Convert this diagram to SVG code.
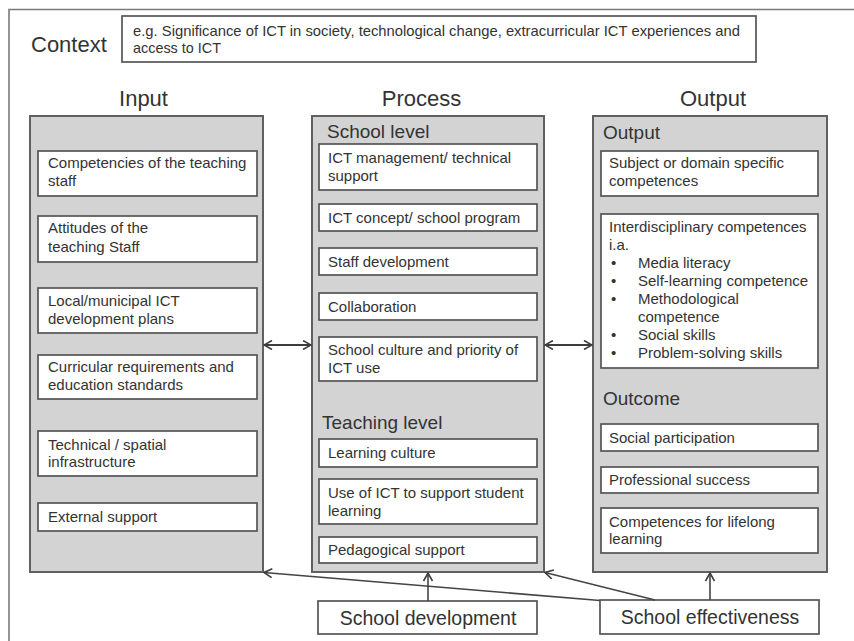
<svg xmlns="http://www.w3.org/2000/svg" width="854" height="641" viewBox="0 0 854 641">
<defs>
<marker id="arr" viewBox="0 0 10 10" refX="9" refY="5" markerWidth="10" markerHeight="10" markerUnits="userSpaceOnUse" orient="auto-start-reverse">
<path d="M1,0.5 L9,5 L1,9.5" fill="none" stroke="#3d3d3d" stroke-width="1.6"/>
</marker>
<style>
text{font-family:"Liberation Sans",Arial,sans-serif;fill:#333;}
.t{font-size:15px;}
.sub{font-size:19px;}
.hd{font-size:22px;text-anchor:middle;}
.big{font-size:19.5px;text-anchor:middle;}
.panel{fill:#d3d3d3;stroke:#606060;stroke-width:2;}
.box{fill:#fff;stroke:#555;stroke-width:1.7;}
.frame{fill:none;stroke:#7a7a7a;stroke-width:1.6;}
.con{fill:none;stroke:#444;stroke-width:1.6;}
.dbl{fill:none;stroke:#3d3d3d;stroke-width:2;}
</style>
</defs>
<rect width="854" height="641" fill="#fff"/>
<path class="frame" d="M9,641 V9.5 H854"/>

<g id="context">
<text x="31" y="52" style="font-size:22px">Context</text>
<rect class="box" x="122" y="16" width="634" height="46"/>
<text x="133" y="36" style="font-size:15px" textLength="607" lengthAdjust="spacingAndGlyphs">e.g. Significance of ICT in society, technological change, extracurricular ICT experiences and</text>
<text x="133" y="53" style="font-size:15px" textLength="88" lengthAdjust="spacingAndGlyphs">access to ICT</text>
</g>

<g id="headers">
<text class="hd" x="143.5" y="106">Input</text>
<text class="hd" x="421.5" y="106">Process</text>
<text class="hd" x="713" y="106">Output</text>
</g>

<g id="input">
<rect class="panel" x="30" y="116" width="233" height="456"/>
<g id="in1"><rect class="box" x="38" y="151" width="219" height="45"/><text class="t" x="48" y="168">Competencies of the teaching</text><text class="t" x="48" y="186">staff</text></g>
<g id="in2"><rect class="box" x="38" y="216" width="219" height="46"/><text class="t" x="48" y="233">Attitudes of the</text><text class="t" x="48" y="252">teaching Staff</text></g>
<g id="in3"><rect class="box" x="38" y="288" width="219" height="45"/><text class="t" x="48" y="306">Local/municipal ICT</text><text class="t" x="48" y="324">development plans</text></g>
<g id="in4"><rect class="box" x="38" y="355" width="219" height="44"/><text class="t" x="48" y="372">Curricular requirements and</text><text class="t" x="48" y="390">education standards</text></g>
<g id="in5"><rect class="box" x="38" y="431" width="219" height="45"/><text class="t" x="48" y="450">Technical / spatial</text><text class="t" x="48" y="467">infrastructure</text></g>
<g id="in6"><rect class="box" x="38" y="503" width="219" height="28"/><text class="t" x="48" y="522">External support</text></g>
</g>

<g id="process">
<rect class="panel" x="312" y="116" width="232" height="456"/>
<text class="sub" x="327" y="138">School level</text>
<g id="pr1"><rect class="box" x="319" y="144" width="218" height="46"/><text class="t" x="328" y="163">ICT management/ technical</text><text class="t" x="328" y="181">support</text></g>
<g id="pr2"><rect class="box" x="319" y="204" width="218" height="27"/><text class="t" x="328" y="223">ICT concept/ school program</text></g>
<g id="pr3"><rect class="box" x="319" y="248" width="218" height="27"/><text class="t" x="328" y="267">Staff development</text></g>
<g id="pr4"><rect class="box" x="319" y="293" width="218" height="27"/><text class="t" x="328" y="312">Collaboration</text></g>
<g id="pr5"><rect class="box" x="319" y="337" width="218" height="44"/><text class="t" x="328" y="355">School culture and priority of</text><text class="t" x="328" y="373">ICT use</text></g>
<text class="sub" x="322" y="429">Teaching level</text>
<g id="pr6"><rect class="box" x="319" y="439" width="218" height="28"/><text class="t" x="328" y="458">Learning culture</text></g>
<g id="pr7"><rect class="box" x="319" y="479" width="218" height="45"/><text class="t" x="328" y="498">Use of ICT to support student</text><text class="t" x="328" y="516">learning</text></g>
<g id="pr8"><rect class="box" x="319" y="537" width="218" height="26"/><text class="t" x="328" y="555">Pedagogical support</text></g>
</g>

<g id="output">
<rect class="panel" x="593" y="116" width="234" height="456"/>
<text class="sub" x="603" y="139">Output</text>
<g id="out1"><rect class="box" x="601" y="151" width="217" height="45"/><text class="t" x="609" y="168">Subject or domain specific</text><text class="t" x="609" y="186">competences</text></g>
<g id="out2"><rect class="box" x="601" y="214" width="217" height="154"/>
<text class="t" x="609" y="232">Interdisciplinary competences</text>
<text class="t" x="609" y="250">i.a.</text>
<text class="t" x="611" y="268">•</text><text class="t" x="638" y="268">Media literacy</text>
<text class="t" x="611" y="286">•</text><text class="t" x="638" y="286">Self-learning competence</text>
<text class="t" x="611" y="304">•</text><text class="t" x="638" y="304">Methodological</text>
<text class="t" x="638" y="322">competence</text>
<text class="t" x="611" y="340">•</text><text class="t" x="638" y="340">Social skills</text>
<text class="t" x="611" y="358">•</text><text class="t" x="638" y="358">Problem-solving skills</text>
</g>
<text class="sub" x="603" y="405">Outcome</text>
<g id="out3"><rect class="box" x="601" y="424" width="217" height="27"/><text class="t" x="609" y="443">Social participation</text></g>
<g id="out4"><rect class="box" x="601" y="467" width="217" height="26"/><text class="t" x="609" y="485">Professional success</text></g>
<g id="out5"><rect class="box" x="601" y="508" width="217" height="45"/><text class="t" x="609" y="527">Competences for lifelong</text><text class="t" x="609" y="544">learning</text></g>
</g>

<g id="school-development"><rect class="box" x="318" y="601" width="219" height="33"/><text class="big" x="428" y="625">School development</text></g>
<g id="school-effectiveness"><rect class="box" x="600" y="600" width="219" height="34"/><text class="big" x="710" y="624">School effectiveness</text></g>

<g id="connectors">
<line class="dbl" x1="264" y1="345" x2="311" y2="345" marker-start="url(#arr)" marker-end="url(#arr)"/>
<line class="dbl" x1="545" y1="345" x2="592" y2="345" marker-start="url(#arr)" marker-end="url(#arr)"/>
<line class="con" x1="428" y1="601" x2="428" y2="573" marker-end="url(#arr)"/>
<line class="con" x1="710" y1="600" x2="710" y2="573" marker-end="url(#arr)"/>
<line class="con" x1="655" y1="600" x2="545" y2="572.5" marker-end="url(#arr)"/>
<line class="con" x1="600" y1="600.5" x2="264" y2="572.5" marker-end="url(#arr)"/>
</g>
</svg>
